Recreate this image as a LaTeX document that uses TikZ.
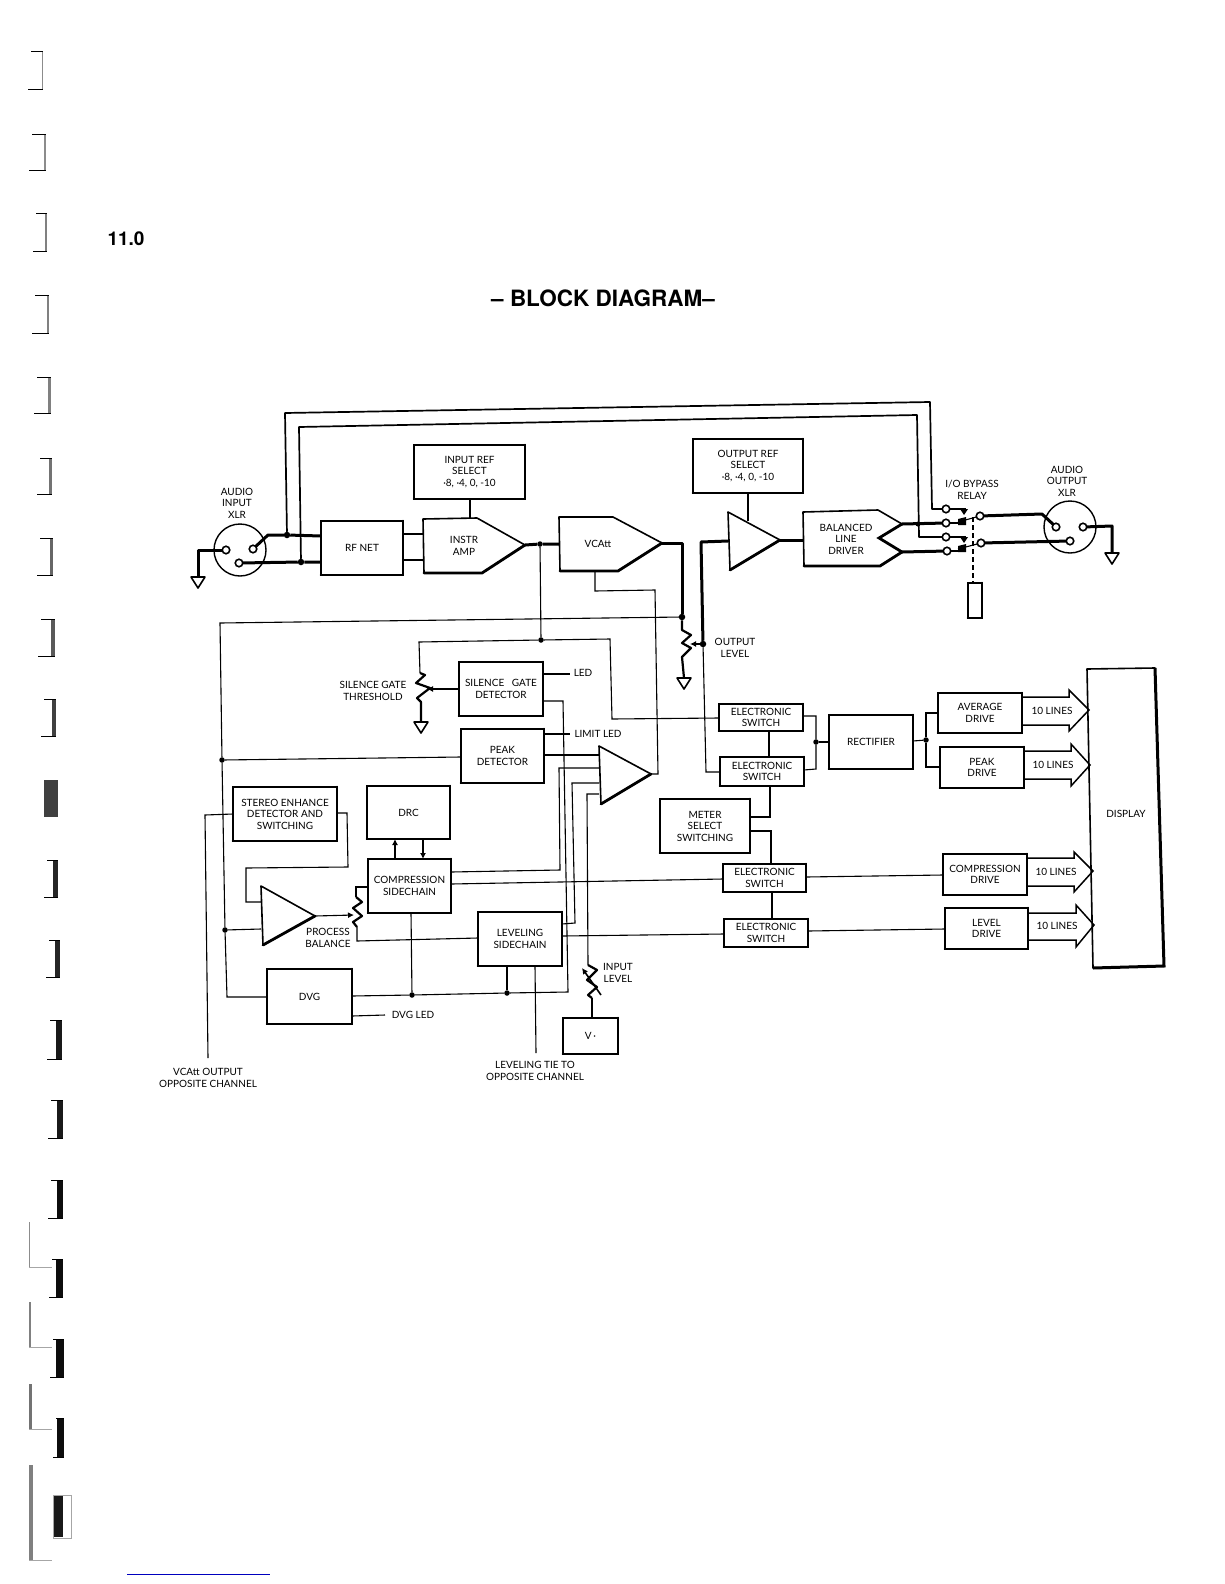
\documentclass[tikz,border=0pt]{standalone}
\usepackage{fontspec}
\setmainfont{Lato}
\newfontfamily\headfont{TeX Gyre Heros}
\usetikzlibrary{arrows.meta}
\tikzset{
  lbl/.style={inner sep=0pt,outer sep=0pt,align=center,font=\fontsize{10}{11.5}\selectfont},
  blk/.style={draw,line width=1.6pt,inner sep=0pt,outer sep=0pt,align=center,font=\fontsize{10}{11.5}\selectfont},
  blkedge/.style={line width=2.6pt,line cap=round},
  outline/.style={line width=1.6pt,line join=round},
  heavyedge/.style={line width=2.8pt,line cap=round},
  tn/.style={line width=1.1pt},
  mw/.style={line width=1.7pt,line join=round},
  tw/.style={line width=3pt,line join=round},
  dot/.style={circle,fill=black,inner sep=0pt,outer sep=0pt,minimum size=6.5pt},
  pinmark/.style={circle,draw,fill=white,line width=1.6pt,inner sep=0pt,outer sep=0pt,minimum size=7.5pt},
  xlr/.style={circle,draw,line width=1.4pt,inner sep=0pt,outer sep=0pt,minimum size=52pt},
  gndmark/.style={line width=1.6pt,line join=round},
  zig/.style={line width=2.2pt,line join=round},
  wiper/.style={line width=1.2pt,-{Latex[length=6pt,width=6pt]}},
  harrowline/.style={line width=1.5pt,line join=miter},
}
\newcommand{\blk}[6]{%
  \pgfmathsetmacro\bcx{(#2+#4)/2}%
  \pgfmathsetmacro\bcy{(#3+#5)/2}%
  \pgfmathsetmacro\bw{#4-#2}%
  \pgfmathsetmacro\bh{#5-#3}%
  \node[blk,minimum width=\bw pt,minimum height=\bh pt] (#1) at (\bcx,\bcy) {#6};
  \draw[blkedge] (#1.north east) -- (#1.south east) -- (#1.south west);
}
\newcommand{\gnd}[2]{\draw[gndmark] (#1-7,#2) -- (#1+7,#2) -- (#1,#2+11) -- cycle;}
\newcommand{\harrow}[8]{\draw[harrowline] (#1.east |- 0,#2) -- (#3,#2) -- (#3,#4) -- (#5,#6) -- (#3,#7) -- (#3,#8) -- (#1.east |- 0,#8);}
\begin{document}
\begin{tikzpicture}[x=1pt,y=-1pt]
\useasboundingbox (0,0) rectangle (1224,1584);
% binding marks
\foreach \l/\r/\t/\b/\w/\s in {
 28/43/51/89/1.5/45, 29/46/134/170/2/45, 33/47/213/251/2/50, 32/49/295/333/2/50,
 34/51/377/413/3/50, 37/52/458/494/3/55, 37/53/538/575/3/60, 38/55/619/656/4/65,
 41/56/699/736/4/75, 44/58/860/897/5/85, 46/60/940/977/5/85, 47/62/1020/1059/6/90,
 48/63/1100/1138/6/90, 48/63/1180/1218/6/95, 49/63/1259/1297/7/95, 50/64/1339/1377/8/95,
 53/64/1418/1457/7/95}{
  \fill[black!\s] (\r-\w,\t) rectangle (\r,\b);
  \draw[line width=0.8pt] (\l,\b) -- (\r,\b);
  \draw[line width=0.8pt] (\l+3,\t) -- (\r,\t);
}
\fill[black!75] (44,780) rectangle (58,817);
\fill[black!90] (54,1496) rectangle (63,1537);
\draw[black!35,line width=0.8pt] (53,1495) rectangle (71,1538);
\foreach \t/\b/\w/\s in {1222/1267/1/45, 1302/1347/1.5/50, 1384/1429/3/55, 1465/1560/4/50}{
  \fill[black!\s] (29,\t) rectangle (29+\w,\b);
  \draw[black!35,line width=0.8pt] (29,\b) -- (52,\b);
}
\draw[blue!75!black,line width=0.9pt] (127,1574) -- (270,1574);
% headings
\node[inner sep=0pt] (secnum) at (126,239) {\headfont\bfseries\fontsize{19}{19}\selectfont 11.0};
\node[inner sep=0pt] (title) at (603,298) {\headfont\bfseries\fontsize{22.5}{22.5}\selectfont – BLOCK DIAGRAM–};
% blocks
\blk{inref}{414}{445}{525}{499}{INPUT REF\\SELECT\\·8, ·4, 0, -10}
\blk{outref}{693}{439}{803}{493}{OUTPUT REF\\SELECT\\·8, ·4, 0, -10}
\blk{rf}{321}{521}{403}{575}{RF NET}
\blk{sgd}{459}{662}{543}{716}{SILENCE\ \ \ GATE\\DETECTOR}
\blk{peak}{461}{729}{544}{783}{PEAK\\DETECTOR}
\blk{stereo}{233}{787}{337}{841}{STEREO ENHANCE\\DETECTOR AND\\SWITCHING}
\blk{drc}{367}{786}{450}{839}{DRC}
\blk{comp}{368}{859}{451}{913}{COMPRESSION\\SIDECHAIN}
\blk{lev}{478}{912}{562}{966}{LEVELING\\SIDECHAIN}
\blk{dvg}{267}{969}{352}{1024}{DVG}
\blk{vminus}{563}{1018}{618}{1054}{V\,·}
\blk{esa}{719}{704}{803}{731}{ELECTRONIC\\SWITCH}
\blk{esb}{720}{757}{804}{786}{ELECTRONIC\\SWITCH}
\blk{esc}{723}{864}{806}{892}{ELECTRONIC\\SWITCH}
\blk{esd}{724}{919}{808}{947}{ELECTRONIC\\SWITCH}
\blk{meter}{660}{799}{750}{853}{METER\\SELECT\\SWITCHING}
\blk{rect}{829}{715}{913}{769}{RECTIFIER}
\blk{avg}{938}{693}{1022}{733}{AVERAGE\\DRIVE}
\blk{pkd}{940}{747}{1024}{788}{PEAK\\DRIVE}
\blk{cmd}{943}{854}{1027}{895}{COMPRESSION\\DRIVE}
\blk{lvd}{945}{908}{1028}{949}{LEVEL\\DRIVE}
\blk{relaybox}{968}{583}{982}{618}{}
% amplifiers
\draw[outline] (423,519) coordinate (iaA) -- (477,518) -- (525,545) coordinate (iaT) -- (482,573) -- (424,573) coordinate (iaB) -- cycle;
\draw[heavyedge] (525,545) -- (482,573) -- (424,573);
\node[lbl] (instr) at (464,546) {INSTR\\AMP};
\draw[outline] (559,517) -- (613,517) -- (662,543) coordinate (vcT) -- (618,571) -- (560,571) -- cycle;
\draw[heavyedge] (662,543) -- (618,571) -- (560,571);
\node[lbl] (vcatt) at (598,544) {VCAtt};
\draw[outline] (728,512) -- (780,540) coordinate (oaT) -- (730,570) -- cycle;
\draw[heavyedge] (780,540) -- (730,570);
\draw[outline] (803,512) -- (878,510) -- (902,524) coordinate (bdA) -- (879,538) -- (902,552) coordinate (bdB) -- (880,566) -- (804,566) -- cycle;
\draw[heavyedge] (902,524) -- (879,538) -- (902,552) -- (880,566) -- (804,566);
\node[lbl] (bld) at (846,539) {BALANCED\\LINE\\DRIVER};
\draw[outline] (599,746) -- (651,774) coordinate (limT) -- (601,804) -- cycle;
\draw[heavyedge] (651,774) -- (601,804);
\draw[outline] (261,886) -- (315,916) coordinate (pbT) -- (263,945) -- cycle;
\draw[heavyedge] (315,916) -- (263,945);
% display
\draw[outline] (1087,669) -- (1155,668) -- (1164,966) -- (1093,968) -- cycle;
\draw[line width=3pt] (1155,668) -- (1164,966) -- (1093,968);
\node[lbl] (display) at (1126,814) {DISPLAY};
% connectors XLR in
\node[xlr] (xlrin) at (240,550) {};
\node[pinmark] (pa) at (226,550) {};
\node[pinmark] (pb) at (253,549) {};
\node[pinmark] (pc) at (239,563) {};
\node[dot] (ja) at (287,535) {};
\node[dot] (jb) at (301,562) {};
\draw[tw] (pa) -- (198,550) -- (198,577);
\gnd{198}{577}
\draw[tw] (pb) -- (268,535) -- (ja) -- (rf.west |- 0,536);
\draw[tw] (pc) -- (jb) -- (rf.west |- 0,562);
% relay
\node[pinmark] (ra) at (946,509) {};
\node[pinmark] (rb) at (946,523) {};
\node[pinmark] (rc) at (946,537) {};
\node[pinmark] (rd) at (947,551) {};
\node[pinmark] (re) at (980,516) {};
\node[pinmark] (rf2) at (981,543) {};
\node[dot,minimum size=5pt] (jc) at (918,524) {};
\draw[mw] (ja) -- (285,413) -- (930,402) -- (932,509) -- (ra);
\draw[mw] (jb) -- (299,427) -- (917,415) -- (919,537) -- (rc);
\draw[tw] (bdA) -- (rb);
\draw[tw] (bdB) -- (rd);
\draw[mw] (ra) -- (966,509);
\draw[mw] (rc) -- (966,537);
\draw[mw] (rb) -- (965,523);
\draw[mw] (rd) -- (965,551);
\fill (960,509) -- (968,509) -- (964,515) -- cycle;
\fill (960,537) -- (968,537) -- (964,543) -- cycle;
\fill (958,519) -- (966,517) -- (966,525) -- (958,525) -- cycle;
\fill (958,546) -- (966,544) -- (966,552) -- (958,552) -- cycle;
\draw[tn] (958,522) -- (re);
\draw[tn] (958,549) -- (rf2);
\draw[line width=1.2pt,dash pattern=on 5pt off 3pt] (973,517) -- (relaybox.north -| 973,0);
% XLR out
\node[xlr] (xlrout) at (1070,527) {};
\node[pinmark] (qa) at (1056,527) {};
\node[pinmark] (qb) at (1083,527) {};
\node[pinmark] (qc) at (1070,541) {};
\draw[tw] (re) -- (1042,514) -- (qa);
\draw[tw] (rf2) -- (qc);
\draw[tw] (qb) -- (1112,526) -- (1112,553);
\gnd{1112}{553}
% amp chain
\draw[mw] (rf.east |- 0,534) -- (iaA |- 0,534);
\draw[mw] (rf.east |- 0,560) -- (iaA |- 0,560);
\draw[tn] (inref.south -| 470,0) -- (470,518);
\node[dot,minimum size=5.5pt] (jd) at (540,544) {};
\draw[tw] (iaT) -- (jd) -- (559,544);
\node[dot] (je) at (682,617) {};
\draw[tw] (vcT) -- (682,543) -- (je);
\draw[zig] (je) -- (682,630) -- (691,635) -- (682,643) -- (691,648) -- (682,657) -- (684,678);
\gnd{684}{678}
\node[dot] (jf) at (703,644) {};
\draw[wiper] (jf) -- (690,644);
\draw[tw] (oaT) -- (803,540);
\draw[tw] (728,541) -- (701,542) -- (jf);
\draw[tn] (outref.south -| 748,0) -- (748,521);
\draw[tn] (jf) -- (706,772) -- (esb.west |- 0,772);
% silence gate
\node[dot,minimum size=5.5pt] (jg) at (541,640) {};
\draw[tn] (jd) -- (jg);
\draw[tn] (jg) -- (419,642) -- (420,673);
\draw[zig] (420,673) -- (425,675) -- (416,683) -- (430,688) -- (417,698) -- (421,702) -- (421,722);
\gnd{421}{722}
\draw[wiper] (sgd.west |- 0,689) -- (427,689);
\draw[tn] (jg) -- (610,639) -- (612,719) -- (esa.west |- 0,718);
\draw[tn] (sgd.east |- 0,674) -- (570,674);
\node[lbl] (ledlbl) at (583,673) {LED};
% left rail
\node[dot,minimum size=5.5pt] (jh) at (222,760) {};
\node[dot,minimum size=5.5pt] (ji) at (225,930) {};
\draw[tn] (je) -- (220,623) -- (jh) -- (ji) -- (227,997) -- (dvg.west |- 0,997);
\draw[tn] (jh) -- (peak.west |- 0,757);
\draw[tn] (ji) -- (261,929);
% peak + limiter
\draw[tn] (peak.east |- 0,734) -- (570,734);
\node[lbl] (limlbl) at (598,734) {LIMIT LED};
\draw[tn] (peak.east |- 0,755) -- (599,755);
\draw[tn] (599,768) -- (559,768) -- (560,870) -- (comp.east |- 0,872);
\draw[tn] (599,783) -- (572,783) -- (575,923) -- (lev.east |- 0,924);
\draw[tn] (599,794) -- (587,794) -- (588,965);
\draw[zig] (588,965) -- (597,970) -- (587,980) -- (597,987) -- (588,995) -- (592,998);
\draw[tn] (592,998) -- (vminus.north -| 592,0);
\draw[line width=1.6pt,-{Latex[length=6pt,width=6pt]}] (601,995) -- (582,968);
\draw[tn] (limT) -- (658,774) -- (655,590) -- (595,591) -- (595,571);
% DVG and bus
\node[dot,minimum size=5.5pt] (jj) at (412,995) {};
\node[dot,minimum size=5.5pt] (jk) at (507,993) {};
\draw[tn] (dvg.east |- 0,996) -- (jj) -- (jk) -- (568,992) -- (563,701) -- (sgd.east |- 0,701);
\draw[tn] (comp.south -| 411,0) -- (jj);
\draw[tn] (lev.south -| 507,0) -- (jk);
\draw[tn] (lev.south -| 535,0) -- (536,1053);
\draw[tn] (dvg.east |- 0,1016) -- (385,1015);
\node[lbl] (dvgled) at (413,1015) {DVG LED};
% stereo enhance, process balance
\draw[tn] (stereo.west |- 0,814) -- (205,815) -- (208,1058);
\draw[tn] (stereo.east |- 0,813) -- (347,813) -- (348,867) -- (246,868) -- (246,902) -- (261,902);
\draw[tn] (comp.west |- 0,887) -- (356,887) -- (356,897);
\draw[zig] (356,897) -- (362,902) -- (353,908) -- (362,916) -- (353,922) -- (357,927);
\draw[tn] (357,927) -- (357,941) -- (lev.west |- 0,938);
\draw[tn,-{Latex[length=6pt,width=6pt]}] (pbT) -- (354,915);
\draw[line width=1.6pt,-{Latex[length=6pt,width=6pt]}] (comp.north -| 395,0) -- (drc.south -| 395,0);
\draw[line width=1.6pt,-{Latex[length=6pt,width=6pt]}] (drc.south -| 423,0) -- (comp.north -| 423,0);
\draw[tn] (comp.east |- 0,884) -- (esc.west |- 0,879);
\draw[tn] (lev.east |- 0,936) -- (esd.west |- 0,934);
% meter switching
\node[dot,minimum size=5.5pt] (jl) at (816,742) {};
\node[dot,minimum size=5.5pt] (jm) at (926,740) {};
\draw[tn] (esa.south -| 769,0) -- (esb.north -| 769,0);
\draw[tn] (esa.east |- 0,716) -- (816,716) -- (jl) -- (816,769) -- (esb.east |- 0,770);
\draw[tn] (jl) -- (rect.west |- 0,742);
\draw[tn] (rect.east |- 0,741) -- (jm);
\draw[tn] (jm) -- (926,713) -- (avg.west |- 0,713);
\draw[tn] (jm) -- (926,767) -- (pkd.west |- 0,767);
\draw[tn] (esb.south -| 770,0) -- (770,817) -- (meter.east |- 0,817);
\draw[tn] (meter.east |- 0,831) -- (771,831) -- (esc.north -| 771,0);
\draw[tn] (esc.south -| 772,0) -- (esd.north -| 772,0);
\draw[tn] (esc.east |- 0,877) -- (cmd.west |- 0,875);
\draw[tn] (esd.east |- 0,931) -- (lvd.west |- 0,929);
% hollow arrows
\harrow{avg}{697}{1069}{690}{1089}{710}{731}{725}
\harrow{pkd}{751}{1071}{744}{1090}{765}{786}{779}
\harrow{cmd}{858}{1074}{852}{1093}{871}{892}{886}
\harrow{lvd}{913}{1076}{905}{1094}{925}{947}{940}
\node[lbl] (ln1) at (1052,711) {10 LINES};
\node[lbl] (ln2) at (1053,765) {10 LINES};
\node[lbl] (ln3) at (1056,872) {10 LINES};
\node[lbl] (ln4) at (1057,926) {10 LINES};
% labels
\node[lbl] (audin) at (237,503) {AUDIO\\INPUT\\XLR};
\node[lbl] (audout) at (1067,481) {AUDIO\\OUTPUT\\XLR};
\node[lbl] (bypass) at (972,490) {I/O BYPASS\\RELAY};
\node[lbl] (outlvl) at (735,648) {OUTPUT\\LEVEL};
\node[lbl] (sgth) at (373,691) {SILENCE GATE\\THRESHOLD};
\node[lbl] (pbal) at (328,938) {PROCESS\\BALANCE};
\node[lbl] (inlvl) at (618,973) {INPUT\\LEVEL};
\node[lbl] (vcaopp) at (208,1078) {VCAtt OUTPUT\\OPPOSITE CHANNEL};
\node[lbl] (levtie) at (535,1071) {LEVELING TIE TO\\OPPOSITE CHANNEL};
\end{tikzpicture}
\end{document}
